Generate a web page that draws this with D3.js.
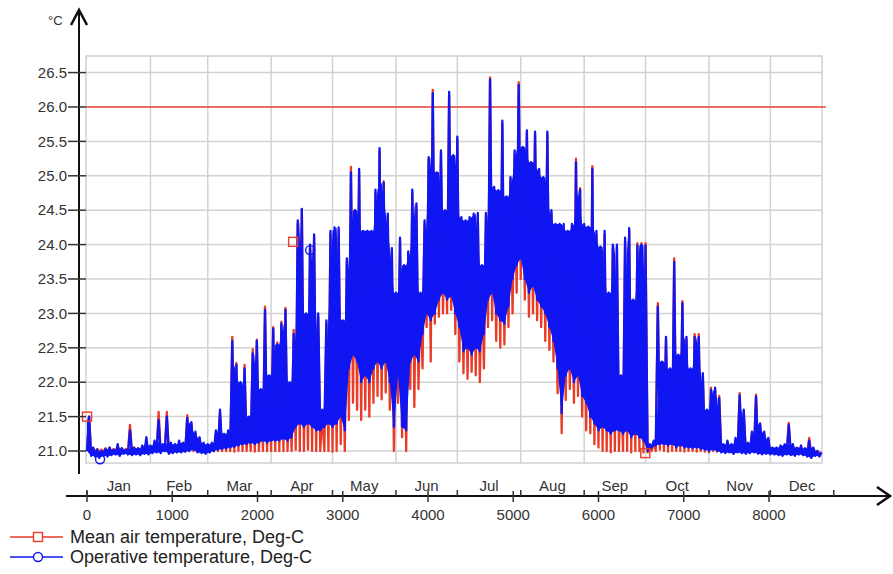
<!DOCTYPE html>
<html>
<head>
<meta charset="utf-8">
<script src="https://cdn.jsdelivr.net/npm/d3@7"></script>
<style>
  body { margin: 0; background: #fff; }
  svg { display: block; font-family: "Liberation Sans", Arial, sans-serif; }
</style>
</head>
<body>
<svg id="chart" width="893" height="574"></svg>
<script>
// hourly results, summarised as one low/high pair per 48 h block
const STEP_HOURS = 48;

// Operative temperature, Deg-C (blue)
const opMax = [
  21.5,21.05,21.02,21.0,21.03,21.05,21.02,21.1,21.04,21.02,21.3,21.05,21.04,21.08,21.2,21.08,
  21.15,21.45,21.1,21.5,21.12,21.1,21.15,21.12,21.48,21.42,21.28,21.2,21.12,21.1,
  21.12,21.3,21.6,21.25,21.3,22.6,22.25,22.0,22.2,21.5,22.42,22.6,21.9,23.05,22.1,22.78,
  22.55,22.85,23.05,22.0,22.7,24.35,24.52,23.0,24.0,24.15,23.0,21.6,22.9,24.2,24.25,
  24.25,22.9,23.8,25.05,24.5,25.1,24.2,24.2,24.2,24.8,25.4,24.9,24.45,23.95,23.3,
  24.1,23.7,23.9,24.8,24.6,23.3,24.35,25.27,26.2,25.05,25.37,24.5,26.22,25.3,25.57,
  24.4,24.35,24.4,24.45,24.46,23.7,24.46,26.4,24.84,24.79,25.8,24.7,24.98,25.37,26.32,25.42,
  25.66,25.2,25.64,25.1,24.98,25.64,24.5,24.3,24.3,24.3,24.2,24.3,25.2,24.8,24.3,24.26,25.1,24.2,
  23.97,24.2,23.3,24.0,24.0,22.1,24.1,24.24,23.2,23.99,24.0,23.99,
  21.1,21.15,23.1,22.3,22.66,22.2,23.75,22.4,23.15,22.66,22.2,22.66,22.66,22.13,21.6,21.89,21.92,
  21.77,21.1,21.15,21.1,21.19,21.81,21.6,21.12,21.28,21.79,21.4,21.28,21.19,21.05,
  21.05,21.08,21.1,21.38,21.1,21.05,21.08,21.04,21.15,21.05,21.0,20.98
];
const opMin = [
  21.0,20.93,20.92,20.9,20.93,20.92,20.94,20.95,20.93,20.96,20.95,20.94,20.95,20.94,20.96,20.95,
  20.97,20.98,20.97,21.0,20.96,20.97,20.98,20.98,20.99,21.0,21.02,20.98,20.97,20.96,
  20.98,21.0,21.02,21.03,21.04,21.05,21.06,21.08,21.1,21.1,21.12,21.1,21.12,21.15,21.12,21.15,
  21.15,21.15,21.18,21.15,21.2,21.35,21.4,21.35,21.4,21.35,21.3,21.3,21.35,21.4,21.35,
  21.4,21.5,21.3,22.2,22.4,22.3,22.0,22.1,22.0,22.2,22.3,22.2,22.3,22.0,21.35,
  22.1,21.35,21.3,22.3,22.4,22.3,22.7,23.0,22.9,23.0,23.2,23.3,23.2,23.25,23.0,
  22.8,22.45,22.5,22.4,22.5,22.45,22.7,23.2,23.3,23.0,22.9,22.85,23.1,23.5,23.7,23.8,
  23.5,23.3,23.4,23.2,23.1,23.0,22.8,22.6,22.2,21.55,22.1,22.2,22.0,22.1,21.8,21.7,21.5,21.4,
  21.3,21.35,21.3,21.25,21.3,21.3,21.25,21.3,21.2,21.25,21.2,21.15,
  21.0,21.05,21.08,21.1,21.1,21.08,21.1,21.05,21.08,21.05,21.05,21.04,21.05,21.03,21.02,21.0,21.02,
  21.0,20.98,20.97,20.98,20.96,20.98,20.97,20.96,20.97,20.98,20.96,20.95,20.96,20.95,
  20.95,20.94,20.93,20.95,20.94,20.93,20.95,20.94,20.92,20.9,20.93,20.92
];

// Mean air temperature, Deg-C (red)
const airMax = [
  21.5,21.04,21.03,21.02,21.04,21.05,21.03,21.06,21.04,21.03,21.38,21.05,21.04,21.06,21.12,21.06,
  21.1,21.57,21.08,21.57,21.1,21.08,21.12,21.1,21.52,21.4,21.25,21.18,21.1,21.08,
  21.1,21.25,21.55,21.2,21.28,22.66,22.28,21.95,22.25,21.45,22.48,22.62,21.85,23.1,22.05,22.8,
  22.58,22.88,23.08,21.95,22.76,24.3,24.5,22.95,23.95,24.1,22.95,21.55,22.85,24.15,24.2,
  24.2,22.85,23.75,25.13,24.45,25.05,24.15,24.15,24.15,24.75,25.35,24.92,24.4,23.9,23.25,
  24.05,23.65,23.85,24.75,24.55,23.25,24.3,25.25,26.25,25.0,25.32,24.45,26.17,25.25,25.52,
  24.35,24.3,24.35,24.4,24.4,23.65,24.4,26.43,24.8,24.75,25.75,24.65,24.95,25.32,26.36,25.38,
  25.62,25.15,25.6,25.05,24.95,25.6,24.45,24.25,24.25,24.25,24.15,24.25,25.25,24.82,24.25,24.22,25.14,24.15,
  23.95,24.15,23.25,23.95,23.95,22.05,24.05,24.2,23.15,24.02,24.02,24.02,
  21.08,21.12,23.15,22.25,22.62,22.15,23.8,22.35,23.18,22.62,22.15,22.7,22.7,22.1,21.58,21.92,21.9,
  21.8,21.08,21.12,21.08,21.16,21.84,21.57,21.1,21.25,21.82,21.38,21.25,21.17,21.04,
  21.04,21.06,21.08,21.41,21.08,21.04,21.06,21.03,21.19,21.04,21.0,20.98
];
const airMin = [
  21.0,20.99,20.98,20.97,20.99,20.98,20.99,21.0,20.99,21.0,20.99,20.98,21.0,20.99,21.0,20.99,
  21.0,21.0,20.99,21.0,20.99,21.0,21.0,20.99,21.0,21.0,21.0,20.99,21.0,20.99,
  20.99,21.0,21.0,21.0,21.0,21.0,20.99,21.0,21.0,21.0,21.0,20.99,21.0,21.0,21.0,21.0,
  21.0,21.0,21.0,21.0,21.0,21.02,21.0,21.0,21.02,21.0,21.0,21.0,21.0,21.0,20.99,
  21.0,21.1,21.0,21.45,21.7,21.6,21.45,21.6,21.5,21.7,21.8,21.75,21.85,21.6,21.0,
  21.7,21.2,21.0,21.9,21.64,21.9,22.2,22.8,22.3,22.85,22.95,23.0,23.0,23.05,22.7,
  22.3,22.13,22.05,22.15,22.1,22.0,22.2,22.8,22.9,22.6,22.5,22.55,22.8,23.0,23.3,23.5,
  23.2,22.95,23.0,22.9,22.8,22.6,22.47,22.3,21.84,21.26,21.74,21.9,21.7,21.8,21.5,21.3,21.26,21.1,
  21.05,21.0,21.0,20.98,21.0,21.0,21.0,21.0,20.98,21.0,21.0,20.98,
  20.98,21.0,21.0,21.02,21.0,20.99,21.0,21.0,21.0,20.99,21.0,21.0,20.99,21.0,20.99,20.98,21.0,
  20.99,20.99,21.0,20.99,20.98,21.0,20.99,20.98,20.99,21.0,20.99,20.98,20.99,20.98,
  20.99,20.98,20.99,20.99,20.98,20.97,20.99,20.98,20.97,20.96,20.98,20.97
];

// series markers [hour, value]
const airMarkers = [[0, 21.5], [2418, 24.04], [6549, 20.97]];
const opMarkers = [[153, 20.88], [2617, 23.92]];

const monthNames = ["Jan","Feb","Mar","Apr","May","Jun","Jul","Aug","Sep","Oct","Nov","Dec"];
const monthStarts = [0,744,1416,2160,2880,3624,4344,5088,5832,6552,7296,8016,8760];
const xTicks = [0,1000,2000,3000,4000,5000,6000,7000,8000];
const yTicks = [21.0,21.5,22.0,22.5,23.0,23.5,24.0,24.5,25.0,25.5,26.0,26.5];
const limitValue = 26.0;

const seriesInfo = [
  { name: "Mean air temperature, Deg-C", color: "#ea3b26", marker: "square", lo: airMin, hi: airMax, body: false },
  { name: "Operative temperature, Deg-C", color: "#0f16f2", marker: "circle", lo: opMin, hi: opMax, body: true }
];

const svg = d3.select("#chart");
const plot = { left: 86, right: 822, top: 56, bottom: 463 };

const x = d3.scaleLinear().domain([-12, 8622]).range([plot.left, plot.right]);
const y = d3.scaleLinear().domain([20.826, 26.741]).range([plot.bottom, plot.top]);

// grid
const grid = svg.append("g");
grid.selectAll(".hg").data(yTicks).enter().append("line")
  .attr("x1", plot.left).attr("x2", plot.right)
  .attr("y1", d => y(d)).attr("y2", d => y(d))
  .attr("stroke", "#d2d2d2").attr("stroke-width", 1.5);
grid.selectAll(".vg").data(monthStarts.slice(1, 12)).enter().append("line")
  .attr("x1", d => x(d)).attr("x2", d => x(d))
  .attr("y1", plot.top).attr("y2", plot.bottom)
  .attr("stroke", "#d2d2d2").attr("stroke-width", 1.5);
grid.append("rect")
  .attr("x", plot.left).attr("y", plot.top)
  .attr("width", plot.right - plot.left).attr("height", plot.bottom - plot.top)
  .attr("fill", "none").attr("stroke", "#d0d0d0").attr("stroke-width", 1.5);

// 26 degC limit
svg.append("line")
  .attr("x1", plot.left).attr("x2", plot.right + 4)
  .attr("y1", y(limitValue)).attr("y2", y(limitValue))
  .attr("stroke", "#e8493a").attr("stroke-width", 1.6);

// series: zigzag low -> high per block, plus a body fill for the operative series
function zig(mins, maxs) {
  const pts = [];
  mins.forEach((m, i) => {
    pts.push([i * STEP_HOURS, m]);
    pts.push([i * STEP_HOURS + STEP_HOURS / 2, maxs[i]]);
  });
  return pts;
}
const line = d3.line().x(d => x(d[0])).y(d => y(d[1]));
const body = d3.area()
  .x((d, i) => x(i * STEP_HOURS))
  .y0(d => y(d.lo))
  .y1(d => y(d.top));

seriesInfo.forEach(s => {
  if (s.body) {
    const rows = s.lo.map((lo, i) => ({
      lo: lo,
      top: Math.max(lo, i > 0 ? Math.min(s.hi[i - 1], s.hi[i]) : s.hi[i])
    }));
    svg.append("path").datum(rows)
      .attr("d", body).attr("fill", s.color).attr("stroke", "none");
  }
  svg.append("path").datum(zig(s.lo, s.hi))
    .attr("d", line).attr("fill", "none")
    .attr("stroke", s.color).attr("stroke-width", 2.3)
    .attr("stroke-linejoin", "round");
});

// markers
function drawMarker(g, type, cx, cy, color) {
  if (type === "square") {
    g.append("rect").attr("x", cx - 4.5).attr("y", cy - 4.5)
      .attr("width", 9).attr("height", 9)
      .attr("fill", "none").attr("stroke", color).attr("stroke-width", 1.4);
  } else {
    g.append("circle").attr("cx", cx).attr("cy", cy).attr("r", 4.5)
      .attr("fill", "none").attr("stroke", color).attr("stroke-width", 1.4);
  }
}
const mk = svg.append("g");
airMarkers.forEach(d => drawMarker(mk, "square", x(d[0]), y(d[1]), seriesInfo[0].color));
opMarkers.forEach(d => drawMarker(mk, "circle", x(d[0]), y(d[1]), seriesInfo[1].color));

// y axis
const axisColor = "#111";
const yAxisX = 79;
const yAx = svg.append("g");
yAx.append("line").attr("x1", yAxisX).attr("x2", yAxisX).attr("y1", 11).attr("y2", 474)
  .attr("stroke", axisColor).attr("stroke-width", 2);
yAx.append("path").attr("d", `M${yAxisX - 8},25 L${yAxisX},10 L${yAxisX + 8},25`)
  .attr("fill", "none").attr("stroke", axisColor).attr("stroke-width", 2.6);
yAx.selectAll(".yt").data(yTicks).enter().append("line")
  .attr("x1", 68).attr("x2", plot.left)
  .attr("y1", d => y(d)).attr("y2", d => y(d))
  .attr("stroke", "#333").attr("stroke-width", 1.5);
yAx.selectAll(".yl").data(yTicks).enter().append("text")
  .attr("x", 67).attr("y", d => y(d)).attr("dy", "0.35em")
  .attr("text-anchor", "end").attr("fill", "#333").style("font-size", "15px")
  .text(d => d.toFixed(1));
yAx.append("text").attr("x", 48).attr("y", 25).attr("fill", "#333")
  .style("font-size", "13px").text("°C");

// x axis
const xAxisY = 496;
const xAx = svg.append("g");
xAx.append("line").attr("x1", 66).attr("x2", 889).attr("y1", xAxisY).attr("y2", xAxisY)
  .attr("stroke", axisColor).attr("stroke-width", 2);
xAx.append("path").attr("d", `M877,${xAxisY - 9} L890,${xAxisY} L877,${xAxisY + 9}`)
  .attr("fill", "none").attr("stroke", axisColor).attr("stroke-width", 2.6);
xAx.selectAll(".xt").data(xTicks).enter().append("line")
  .attr("x1", d => x(d)).attr("x2", d => x(d))
  .attr("y1", xAxisY - 5).attr("y2", xAxisY + 6)
  .attr("stroke", "#333").attr("stroke-width", 1.5);
xAx.selectAll(".xl").data(xTicks).enter().append("text")
  .attr("x", d => x(d)).attr("y", 520)
  .attr("text-anchor", "middle").attr("fill", "#333").style("font-size", "15px")
  .text(d => d);
xAx.selectAll(".mt").data(monthStarts).enter().append("line")
  .attr("x1", d => x(d)).attr("x2", d => x(d))
  .attr("y1", xAxisY - 6).attr("y2", xAxisY)
  .attr("stroke", "#333").attr("stroke-width", 1.5);
xAx.selectAll(".ml").data(monthNames).enter().append("text")
  .attr("x", (d, i) => x((monthStarts[i] + monthStarts[i + 1]) / 2))
  .attr("y", 491)
  .attr("text-anchor", "middle").attr("fill", "#333").style("font-size", "15px")
  .text(d => d);

// legend
const legend = svg.append("g");
seriesInfo.forEach((s, i) => {
  const ly = 537 + i * 20;
  legend.append("line").attr("x1", 10).attr("x2", 63).attr("y1", ly).attr("y2", ly)
    .attr("stroke", s.color).attr("stroke-width", 1.5);
  drawMarker(legend, s.marker, 38, ly, s.color);
  legend.append("text").attr("x", 70).attr("y", ly).attr("dy", "0.36em")
    .attr("fill", "#222").style("font-size", "18px").text(s.name);
});
legend.selectAll("rect, circle").attr("fill", "#fff");
</script>
</body>
</html>
